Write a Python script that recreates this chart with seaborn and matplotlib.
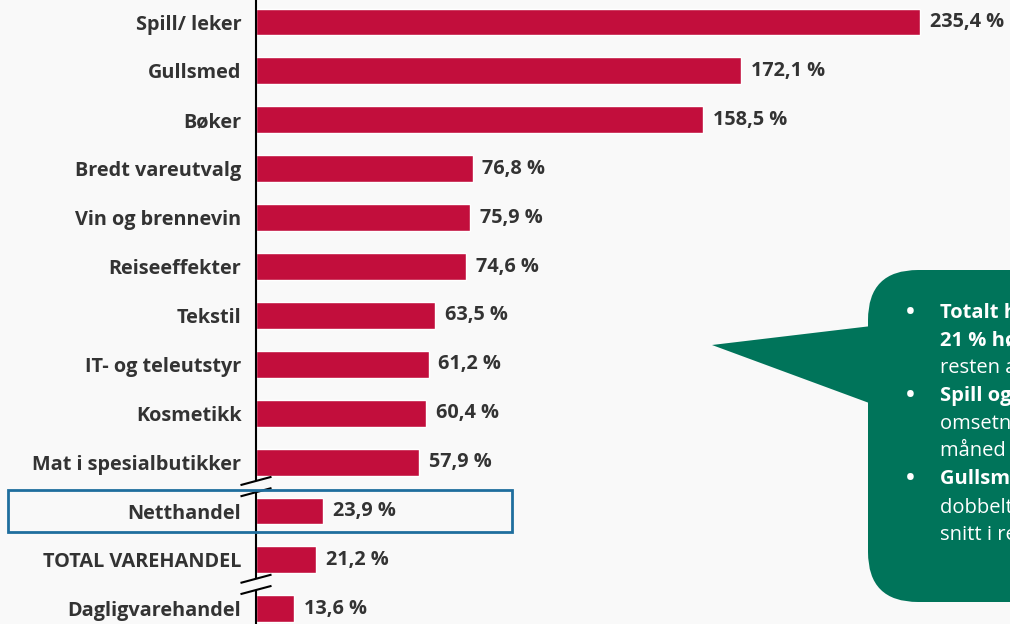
import numpy as np
import pandas as pd
import matplotlib
matplotlib.use('Agg')
import matplotlib.pyplot as plt
import seaborn as sns
from matplotlib.patches import Rectangle, FancyBboxPatch, Polygon
from matplotlib.transforms import IdentityTransform

# Data
categories = ['Spill/ leker', 'Gullsmed', 'Bøker', 'Bredt vareutvalg', 'Vin og brennevin',
              'Reiseeffekter', 'Tekstil', 'IT- og teleutstyr', 'Kosmetikk',
              'Mat i spesialbutikker', 'Netthandel', 'TOTAL VAREHANDEL', 'Dagligvarehandel']
values = [235.4, 172.1, 158.5, 76.8, 75.9, 74.6, 63.5, 61.2, 60.4, 57.9, 23.9, 21.2, 13.6]
value_labels = [f"{v:.1f} %".replace('.', ',') for v in values]

callout_lines = [
    ('•', 'Totalt hadde varehandelen', True),
    ('', '21 % høyere omsetning enn', True),
    ('', 'resten av året', False),
    ('•', 'Spill og leker hadde 235 %', True),
    ('', 'omsetningsvekst mot snitt', False),
    ('', 'måned ellers i året', False),
    ('•', 'Gullsmed hadde mer enn', True),
    ('', 'dobbelt så høy omsetning som', False),
    ('', 'snitt i resten av året', False),
]

bg = '#f9f9f9'
bar_col = '#c20e3c'
green = '#00745a'
txt_col = '#333333'

sns.set_style('white')
plt.rcParams['font.family'] = ['Open Sans', 'DejaVu Sans']

df = pd.DataFrame({'Kategori': categories, 'Vekst': values})

fig = plt.figure(figsize=(10.1, 6.24), dpi=100, facecolor=bg)
ax = fig.add_axes([256 / 1010, 0, 1 - 256 / 1010, 1])
ax.set_facecolor(bg)

sns.barplot(data=df, x='Vekst', y='Kategori', orient='h', color=bar_col,
            saturation=1, width=0.55, ax=ax)

ax.set_xlim(0, (1010 - 256) / 2.82)
ax.set_ylim(len(categories) - 1 + 0.31, -0.45)
ax.set_xlabel('')
ax.set_ylabel('')
ax.set_xticks([])
ax.set_yticks(range(len(categories)))
ax.set_yticklabels(categories, fontweight='bold', fontsize=14.3, color=txt_col)
ax.tick_params(axis='y', length=0, pad=10.5)
for s in ['top', 'right', 'bottom']:
    ax.spines[s].set_visible(False)
ax.spines['left'].set_color('black')
ax.spines['left'].set_linewidth(1.5)

# value labels
for i, (v, t) in enumerate(zip(values, value_labels)):
    ax.annotate(t, (v, i), xytext=(7, 0), textcoords='offset points',
                va='center', ha='left', fontsize=14.3, fontweight='bold', color=txt_col)

# axis break marks
for yb in [9.5, 11.5]:
    ax.add_patch(Rectangle((-1.5, yb - 0.11), 3.0, 0.22, facecolor=bg, edgecolor='none',
                           zorder=3, clip_on=False))
    for dy in (-0.115, 0.115):
        ax.plot([-5.5, 5.5], [yb + dy + 0.085, yb + dy - 0.085], color='black', lw=1.5,
                zorder=4, clip_on=False, solid_capstyle='butt')

# highlight box for Netthandel
ax.add_patch(Rectangle(((8 - 256) / 2.82, 10 - 0.42), (512 - 8) / 2.82, 0.84,
                       facecolor='none', edgecolor='#1f6e9e', lw=2, clip_on=False, zorder=5))

# green callout (pixel coordinates)
H = 624
tr = IdentityTransform()
box = FancyBboxPatch((868, H - 602), 260, 332, boxstyle='round,pad=0,rounding_size=50',
                     facecolor=green, edgecolor='none', transform=tr, zorder=6)
fig.patches.append(box)
ptr = Polygon([(880, H - 325), (712, H - 345), (880, H - 407)], closed=True,
              facecolor=green, edgecolor='none', transform=tr, zorder=6)
fig.patches.append(ptr)

y0 = 313
for k, (b, t, bold) in enumerate(callout_lines):
    yy = H - (y0 + k * 27.7)
    if b:
        fig.text(906, yy, b, transform=tr, color='white', fontsize=17, va='center',
                 ha='left', fontweight='bold', zorder=7)
    fig.text(940, yy, t, transform=tr, color='white', fontsize=14.5, va='center', ha='left',
             fontweight='bold' if bold else 'normal', zorder=7)

fig.savefig('out.png', dpi=100, facecolor=bg)
